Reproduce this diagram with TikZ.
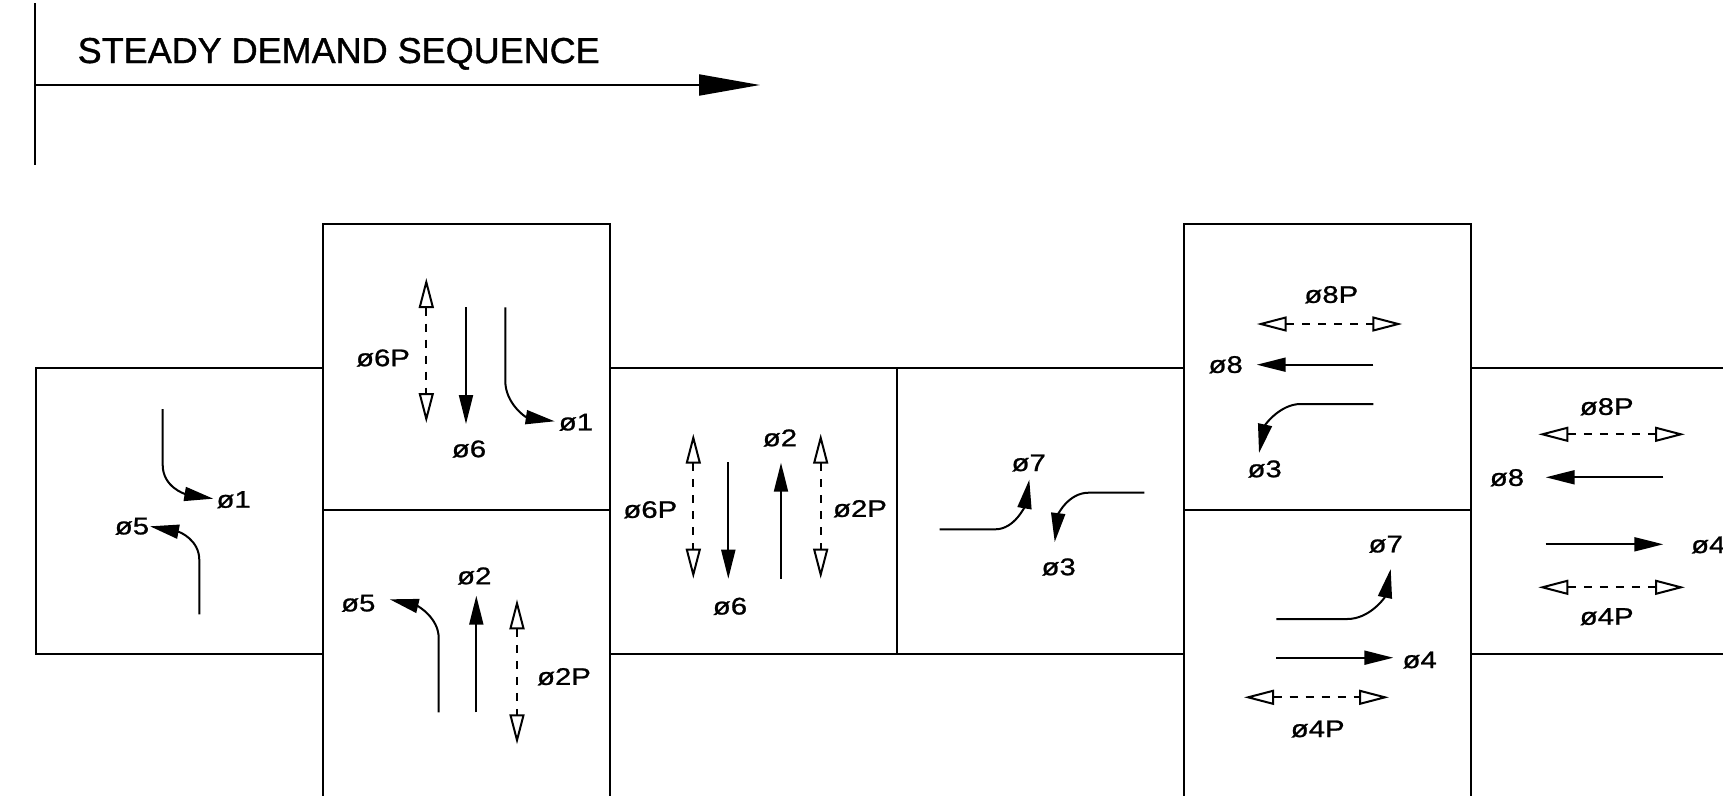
\documentclass[tikz,border=0pt]{standalone}
\usepackage{fontspec}
\setmainfont{Liberation Sans}[FakeBold=1]
\newfontfamily\lab[FakeStretch=1.22,FakeBold=1]{Liberation Sans}
\usetikzlibrary{arrows.meta}
\tikzset{
  frame/.style={line width=2pt},
  veh/.style={line width=2pt, -{Triangle[length=29pt,width=14pt]}},
  ped/.style={line width=2pt, dash pattern=on 8pt off 8pt,
    {Triangle[open,length=30pt,width=15pt]}-{Triangle[open,length=30pt,width=15pt]}},
  lbl/.style={font=\lab\fontsize{24}{28}\selectfont, inner sep=0pt},
  ttl/.style={font=\fontsize{36}{42}\selectfont, inner sep=0pt, anchor=base west},
}
\begin{document}
\begin{tikzpicture}[x=1pt,y=-1pt]
\useasboundingbox (0,0) rectangle (1723,795);
% timeline
\draw[line width=2pt] (35,3) -- (35,165);
\coordinate (tl0) at (35,85);
\coordinate (tl1) at (760,85);
\draw[line width=2pt, -{Triangle[length=61pt,width=21pt]}] (tl0) -- (tl1);
\node[ttl] (title) at (77.5,63) {STEADY DEMAND SEQUENCE};
% frames
\draw[frame] (36,368) rectangle (323,654);
\draw[frame] (323,800) -- (323,224) -- (610,224) -- (610,800);
\draw[frame] (323,510) -- (610,510);
\draw[frame] (610,368) rectangle (897,654);
\draw[frame] (897,368) rectangle (1184,654);
\draw[frame] (1184,800) -- (1184,224) -- (1471,224) -- (1471,800);
\draw[frame] (1184,510) -- (1471,510);
\draw[frame] (1471,368) -- (1730,368);
\draw[frame] (1471,654) -- (1730,654);
% box 1
\draw[veh] (162.7,409) -- (162.7,465) .. controls (162.7,487) and (185,494) .. (213.3,498.7);
\node[lbl] (b1p1) at (233.7,499.7) {ø1};
\draw[veh] (199.3,614.3) -- (199.3,560) .. controls (199.3,540) and (180,532) .. (150,526.3);
\node[lbl] (b1p5) at (132,526.3) {ø5};
% box 2 top
\draw[ped] (426.3,278) -- (426.3,423);
\node[lbl] (b2p6p) at (383,358) {ø6P};
\draw[veh] (466,307.3) -- (466,424);
\node[lbl] (b2p6) at (469,449) {ø6};
\draw[veh] (505.3,307.3) -- (505.3,381) .. controls (505.3,403) and (525,417) .. (554.7,421.3);
\node[lbl] (b2p1) at (576,422.3) {ø1};
% box 2 bottom
\draw[veh] (438.7,712.3) -- (438.7,638) .. controls (438.7,618) and (418,606) .. (389.7,599.3);
\node[lbl] (b2p5) at (358.3,603.3) {ø5};
\draw[veh] (476.3,712.3) -- (476.3,595.7);
\node[lbl] (b2p2) at (474.3,576) {ø2};
\draw[ped] (517,599.3) -- (517,744.3);
\node[lbl] (b2p2p) at (564,676.7) {ø2P};
% box 3
\draw[ped] (693.3,433.7) -- (693.3,578.7);
\node[lbl] (b3p6p) at (650.3,509.7) {ø6P};
\draw[veh] (728.3,462) -- (728.3,578.7);
\node[lbl] (b3p6) at (730,606.3) {ø6};
\draw[veh] (781,578.7) -- (781,462.7);
\node[lbl] (b3p2) at (780,438) {ø2};
\draw[ped] (820.7,433.7) -- (820.7,578.7);
\node[lbl] (b3p2p) at (860,508.7) {ø2P};
% box 4
\draw[veh] (939.7,529.3) -- (995.3,529.3) .. controls (1015,529.3) and (1025,505) .. (1029.3,479.7);
\node[lbl] (b4p7) at (1028.7,463) {ø7};
\draw[veh] (1144.3,492.7) -- (1088.7,492.7) .. controls (1068,492.7) and (1058,515) .. (1054.7,542);
\node[lbl] (b4p3) at (1058.7,567) {ø3};
% box 5 top
\draw[ped] (1256.7,324) -- (1402.3,324);
\node[lbl] (b5p8p) at (1331.3,294.7) {ø8P};
\draw[veh] (1373.3,364.7) -- (1256.7,364.7);
\node[lbl] (b5p8) at (1225.7,364.7) {ø8};
\draw[veh] (1373.3,404) -- (1300.7,404) .. controls (1280,404) and (1265,425) .. (1259,453);
\node[lbl] (b5p3) at (1264.7,469) {ø3};
% box 5 bottom
\draw[veh] (1276.3,619) -- (1347.3,619) .. controls (1370,619) and (1385,597) .. (1390.7,569);
\node[lbl] (b5p7) at (1385.7,544.3) {ø7};
\draw[veh] (1276.3,657.7) -- (1393.3,657.7);
\node[lbl] (b5p4) at (1419.7,660) {ø4};
\draw[ped] (1244,697.3) -- (1389,697.3);
\node[lbl] (b5p4p) at (1317.7,729) {ø4P};
% box 6
\draw[ped] (1538.3,434.3) -- (1685,434.3);
\node[lbl] (b6p8p) at (1606.7,406.7) {ø8P};
\draw[veh] (1663.3,477.3) -- (1545.7,477.3);
\node[lbl] (b6p8) at (1507,477.7) {ø8};
\draw[veh] (1545.7,544.3) -- (1663.3,544.3);
\node[lbl, anchor=west] (b6p4) at (1691,545) {ø4};
\draw[ped] (1538.3,587.3) -- (1685,587.3);
\node[lbl] (b6p4p) at (1606.7,616.7) {ø4P};
\end{tikzpicture}
\end{document}
